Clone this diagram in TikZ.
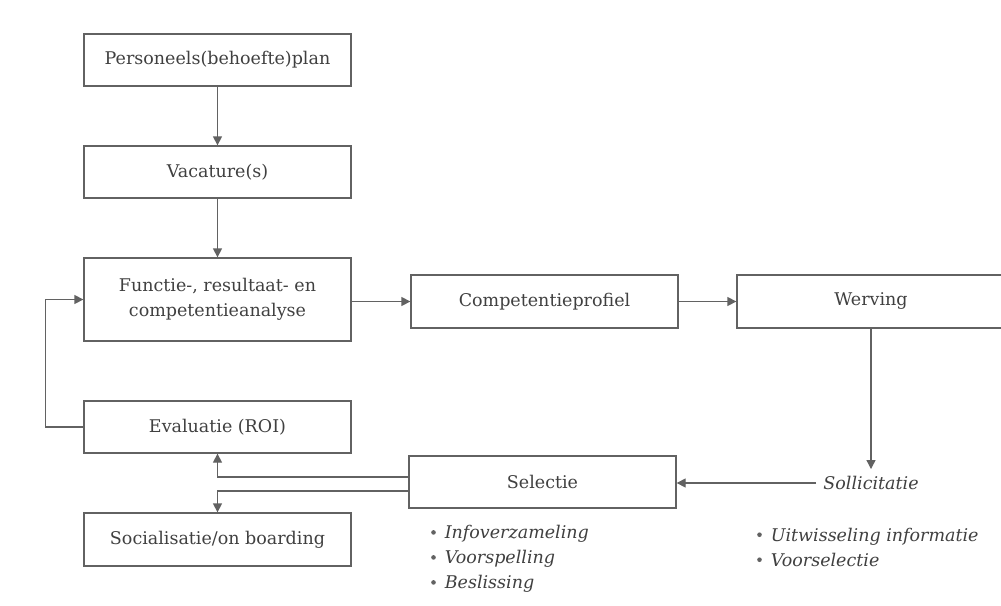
\documentclass[tikz,border=0pt]{standalone}
\usepackage{fontspec}
\setmainfont{DejaVu Serif}
\usetikzlibrary{arrows.meta}
\definecolor{ink}{HTML}{404040}
\definecolor{rule}{HTML}{626262}
\tikzset{
  box/.style={draw=rule, line width=1.3pt, minimum width=267pt, minimum height=52pt,
    inner sep=0pt, text=ink, font=\fontsize{17.5}{25}\selectfont, align=center},
  arr/.style={draw=rule, line width=1.3pt, -{Triangle[length=9pt,width=9pt]}},
  lbl/.style={text=ink, font=\fontsize{17.5}{25}\selectfont\itshape, inner sep=0pt},
  items/.style={text=ink, font=\fontsize{17.5}{25}\selectfont, align=left, inner sep=0pt, anchor=west}
}
% bullet item of a sub-step list
\newcommand{\itm}[1]{\raisebox{4pt}{\tikz\fill[rule] (0,0) circle (2.3pt);}\hspace{9pt}\textit{#1}}
\begin{document}
\begin{tikzpicture}[x=1pt,y=-1pt]
  \useasboundingbox (0,0) rectangle (1001,605);
  \clip (0,0) rectangle (1001,605);
  \fill[white] (0,0) rectangle (1001,605);

  % left column
  \node[box] (plan) at (217.5,60) {Personeels(behoefte)plan};
  \node[box] (vac)  at (217.5,172) {Vacature(s)};
  \node[box, minimum height=83pt] (fra) at (217.5,299.5) {Functie-, resultaat- en\\competentieanalyse};
  \node[box] (eval) at (217.5,427) {Evaluatie (ROI)};
  \node[box, minimum height=53pt] (soc) at (217.5,539.5) {Socialisatie/on boarding};

  % main row
  \node[box, minimum height=53pt] (cp) at (544.5,301.5) {Competentieprofiel};
  \node[box, minimum width=268pt, minimum height=53pt] (werv) at (871,301.5) {Werving};
  \node[box] (sel) at (542.5,482) {Selectie};

  % application step (no box)
  \node[lbl, inner sep=7pt] (sol) at (871,483) {Sollicitatie};

  % sub-steps
  \node[items] (selitems) at (431,559) {\itm{Infoverzameling}\\\itm{Voorspelling}\\\itm{Beslissing}};
  \node[items] (solitems) at (757,547) {\itm{Uitwisseling informatie}\\\itm{Voorselectie}};

  % connectors
  \draw[arr] (plan) -- (vac);
  \draw[arr] (vac) -- (fra);
  \draw[arr] (fra.east |- cp.west) -- (cp.west);
  \draw[arr] (cp) -- (werv);
  \draw[arr] (werv.south) -- (werv.south |- sol.north);
  \draw[arr] (sol.west) -- (sol.west -| sel.east);
  \draw[arr] ([yshift=5pt]sel.west) -| (eval.south);
  \draw[arr] ([yshift=-9pt]sel.west) -| (soc.north);
  \draw[arr] (eval.west) -- ++(-38,0) |- (fra.west);
\end{tikzpicture}
\end{document}
